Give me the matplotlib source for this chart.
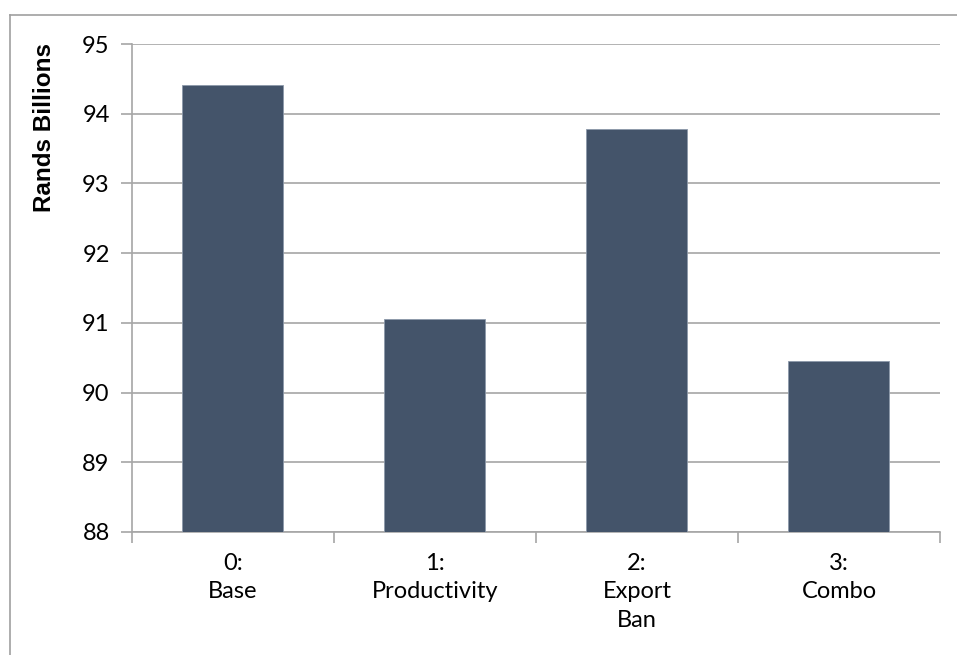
import matplotlib
matplotlib.use("Agg")
import matplotlib.pyplot as plt
from matplotlib.lines import Line2D

categories=["0:\nBase","1:\nProductivity","2:\nExport\nBan","3:\nCombo"]
values=[94.41,91.05,93.78,90.46]
yticks=[88,89,90,91,92,93,94,95]

bar_color="#44546A"
grid_color="#A6A6A6"

plt.rcParams["font.family"]=["Lato","DejaVu Sans"]

fig=plt.figure(figsize=(9.57,6.55),dpi=100)
ax=fig.add_axes([0.1379,0.1878,0.8443,0.745])

x=range(len(categories))
ax.bar(x,values,width=0.5,color=bar_color,edgecolor="#8C99AA",linewidth=0.6,zorder=3)
ax.set_ylim(88,95)
ax.set_xlim(-0.5,len(categories)-0.5)
ax.set_yticks(yticks)
ax.yaxis.grid(True,color=grid_color,linewidth=1.2,zorder=0)
ax.set_axisbelow(True)

# category tick marks sit between the bars
ax.set_xticks([i-0.5 for i in range(len(categories)+1)])
ax.set_xticklabels([])
ax.set_xticks(list(x),minor=True)
ax.set_xticklabels(categories,minor=True,fontsize=17,linespacing=1.45)
ax.tick_params(axis="x",which="major",length=8,color=grid_color,width=1.2)
ax.tick_params(axis="x",which="minor",length=0,pad=15)
ax.tick_params(axis="y",length=8,color=grid_color,width=1.2,labelsize=17,pad=8)

for s in ["top","right"]:
    ax.spines[s].set_visible(False)
for s in ["left","bottom"]:
    ax.spines[s].set_color(grid_color)
    ax.spines[s].set_linewidth(1.2)

ax.set_ylabel("Rands Billions",fontsize=17.5,fontweight="bold",family=["Liberation Sans","DejaVu Sans"])
ax.yaxis.set_label_coords(-0.094,0.829)

# outer chart border (only top and left visible in the frame)
fig.add_artist(Line2D([10/957,1.0],[1-15/655,1-15/655],color="#A0A0A0",linewidth=1.2))
fig.add_artist(Line2D([10/957,10/957],[0.0,1-15/655],color="#A0A0A0",linewidth=1.2))

fig.savefig("out.png",dpi=100)
